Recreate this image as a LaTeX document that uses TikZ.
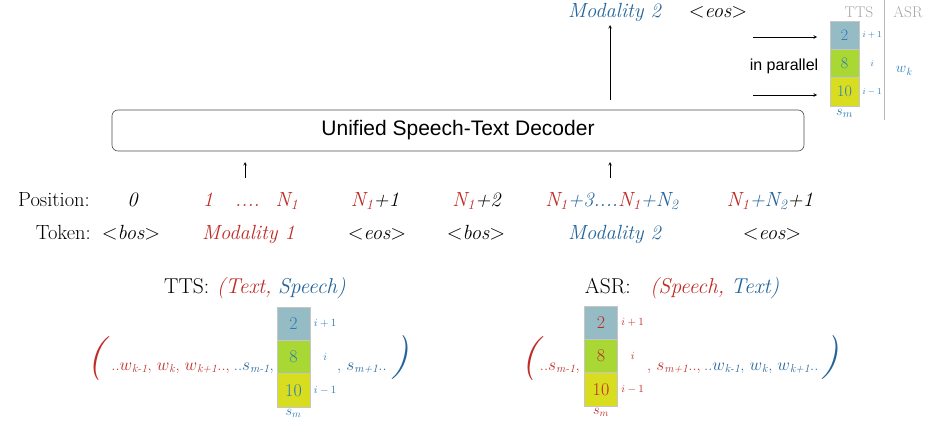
\documentclass[tikz,border=0pt]{standalone}
\usepackage{fontspec}
\newfontfamily\decfont{Liberation Sans}
\usetikzlibrary{positioning}
\definecolor{tred}{HTML}{BF2B26}
\definecolor{tblue}{HTML}{24649A}
\definecolor{lblue}{HTML}{2A7DB8}
\definecolor{cellhi}{HTML}{95BBC5}
\definecolor{cellmid}{HTML}{A9D834}
\definecolor{celllo}{HTML}{D8DD20}
\newcommand{\fsz}[1]{\fontsize{#1}{#1}\selectfont}
\newcommand{\isub}[2]{$#1$\textsubscript{\textit{#2}}}
\tikzset{
  row/.style={font=\fsz{20.5}, inner sep=0pt, anchor=base},
  ttl/.style={font=\fsz{21.5}, inner sep=0pt, anchor=base},
  seq/.style={font=\fsz{16.5}, inner sep=0pt},
  cell/.style={draw=gray!45, line width=0.3pt, inner sep=0pt, minimum width=33pt, minimum height=33.3pt, font=\fsz{18}},
  smallcell/.style={cell, minimum width=29pt, minimum height=28.3pt, font=\fsz{16}},
  idx/.style={font=\fsz{10.5}, inner sep=0pt},
  brk/.style={font=\fsz{44}\itshape, inner sep=0pt},
  arr/.style={->, >=stealth, line width=0.6pt},
}
\begin{document}
\begin{tikzpicture}[x=1pt, y=-1pt]
    \useasboundingbox (0,0) rectangle (927,423);
    % decoder
    \node[draw=gray!60!black, rounded corners=6pt, line width=0.6pt, minimum width=692pt, minimum height=41pt, inner sep=0pt, font=\decfont\fsz{21}] (dec) at (458,130.5) {Unified Speech-Text Decoder};
    \coordinate (in1) at (245,178);
    \coordinate (in1tip) at (245,162);
    \coordinate (in2) at (610,178);
    \coordinate (in2tip) at (610,162);
    \draw[arr] (in1) -- (in1tip);
    \draw[arr] (in2) -- (in2tip);
    \coordinate (out2) at (610,100);
    \coordinate (out2tip) at (610,25);
    \draw[arr] (out2) -- (out2tip);
    \node[row, text=tblue] (outmod) at (615,17.5) {\textit{Modality 2}};
    \node[row] (outeos) at (718,17.5) {$<$\textit{eos}$>$};
    % parallel output
    \node[font=\decfont\fsz{16}, inner sep=0pt] (par) at (784,66) {in parallel};
    \coordinate (pa1) at (753,37);
    \coordinate (pa1tip) at (817,37);
    \coordinate (pa2) at (753,95);
    \coordinate (pa2tip) at (817,95);
    \draw[arr] (pa1) -- (pa1tip);
    \draw[arr] (pa2) -- (pa2tip);
    \foreach \v/\c [count=\k] in {2/cellhi,8/cellmid,10/celllo}
        \node[smallcell, fill=\c, text=lblue] (out\k) at (844.5,{6.85+28.3*\k}) {\v};
    \foreach \k/\t in {1/i+1,2/i,3/i-1}
        \node[idx, font=\fsz{8.7}, text=lblue] (outi\k) at ([xshift=13pt]out\k.east) {$\t$};
    \node[idx, font=\fsz{15}, text=lblue, below=3pt of out3] (outsm) {$s_m$};
    \node[font=\fsz{15.5}, text=gray!70, inner sep=0pt] (ttstag) at (859,12) {TTS};
    \node[font=\fsz{15.5}, text=gray!70, inner sep=0pt] (asrtag) at (908,12) {ASR};
    \coordinate (divtop) at (884,0);
    \coordinate (divbot) at (884,120);
    \draw[gray!55, line width=0.5pt] (divtop) -- (divbot);
    \node[font=\fsz{15}, text=lblue, inner sep=0pt] (wk) at (904,71) {\isub{w}{k}};
    % position row
    \node[row, anchor=base east] (poslab) at (90,206) {Position:};
    \node[row] (p0) at (133,206) {\textit{0}};
    \node[row, text=tred] (p1) at (208,206) {\textit{1}};
    \node[row, text=tred] (pdots) at (247.5,206) {\textit{....}};
    \node[row, text=tred] (pn1) at (287,206) {\textit{N\textsubscript{1}}};
    \node[row] (pn1a) at (375,206) {\textit{\textcolor{tred}{N\textsubscript{1}}+1}};
    \node[row] (pn1b) at (477,206) {\textit{\textcolor{tred}{N\textsubscript{1}}+2}};
    \node[row, text=tblue] (pmod2) at (612,206) {\textit{\textcolor{tred}{N\textsubscript{1}}+3....\textcolor{tred}{N\textsubscript{1}}+N\textsubscript{2}}};
    \node[row] (plast) at (770,206) {\textit{\textcolor{tred}{N\textsubscript{1}}\textcolor{tblue}{+N\textsubscript{2}}+1}};
    % token row
    \node[row, anchor=base east] (toklab) at (91,239) {Token:};
    \node[row] (tbos1) at (131,239) {$<$\textit{bos}$>$};
    \node[row, text=tred] (tmod1) at (248.5,239) {\textit{Modality 1}};
    \node[row] (teos1) at (377,239) {$<$\textit{eos}$>$};
    \node[row] (tbos2) at (476,239) {$<$\textit{bos}$>$};
    \node[row, text=tblue] (tmod2) at (615,239) {\textit{Modality 2}};
    \node[row] (teos2) at (772,239) {$<$\textit{eos}$>$};
    % TTS pair
    \node[ttl] (ttstitle) at (255,293) {TTS:\hspace{0.35em}\textcolor{tred}{\textit{(Text,}} \textcolor{tblue}{\textit{Speech)}}};
    \foreach \v/\c [count=\k] in {2/cellhi,8/cellmid,10/celllo}
        \node[cell, fill=\c, text=lblue] (tts\k) at (293.5,{290.35+33.3*\k}) {\v};
    \foreach \k/\t in {1/i+1,2/i,3/i-1}
        \node[idx, text=lblue] (ttsi\k) at ([xshift=15pt]tts\k.east) {$\t$};
    \node[idx, font=\fsz{14}, text=lblue, below=2pt of tts3] (ttssm) {$s_m$};
    \node[seq, anchor=base east] (ttsleft) at (274,370) {\textcolor{tred}{..\isub{w}{k-1}, \isub{w}{k}, \isub{w}{k+1}..,}\hspace{0.25em}\textcolor{tblue}{..\isub{s}{m-1},}};
    \node[seq, anchor=base west, text=tblue] (ttsright) at (337,370) {, \isub{s}{m+1}..};
    \node[brk, text=tred] (ttsopen) at (96,359) {(};
    \node[brk, text=tblue] (ttsclose) at (400,358) {)};
    % ASR pair
    \node[ttl] (asrtitle) at (682,293) {ASR:\hspace{0.9em}\textcolor{tred}{\textit{(Speech,}} \textcolor{tblue}{\textit{Text)}}};
    \foreach \v/\c [count=\k] in {2/cellhi,8/cellmid,10/celllo}
        \node[cell, fill=\c, text=tred] (asr\k) at (601,{289.35+33.3*\k}) {\v};
    \foreach \k/\t in {1/i+1,2/i,3/i-1}
        \node[idx, text=tred] (asri\k) at ([xshift=15pt]asr\k.east) {$\t$};
    \node[idx, font=\fsz{14}, text=tred, below=2pt of asr3] (asrsm) {$s_m$};
    \node[seq, anchor=base east, text=tred] (asrleft) at (580,370) {..\isub{s}{m-1},};
    \node[seq, anchor=base west] (asrright) at (647,370) {\textcolor{tred}{, \isub{s}{m+1}..,}\hspace{0.2em}\textcolor{tblue}{..\isub{w}{k-1}, \isub{w}{k}, \isub{w}{k+1}..}};
    \node[brk, text=tred] (asropen) at (530,359) {(};
    \node[brk, text=tblue] (asrclose) at (830,358) {)};
\end{tikzpicture}
\end{document}
